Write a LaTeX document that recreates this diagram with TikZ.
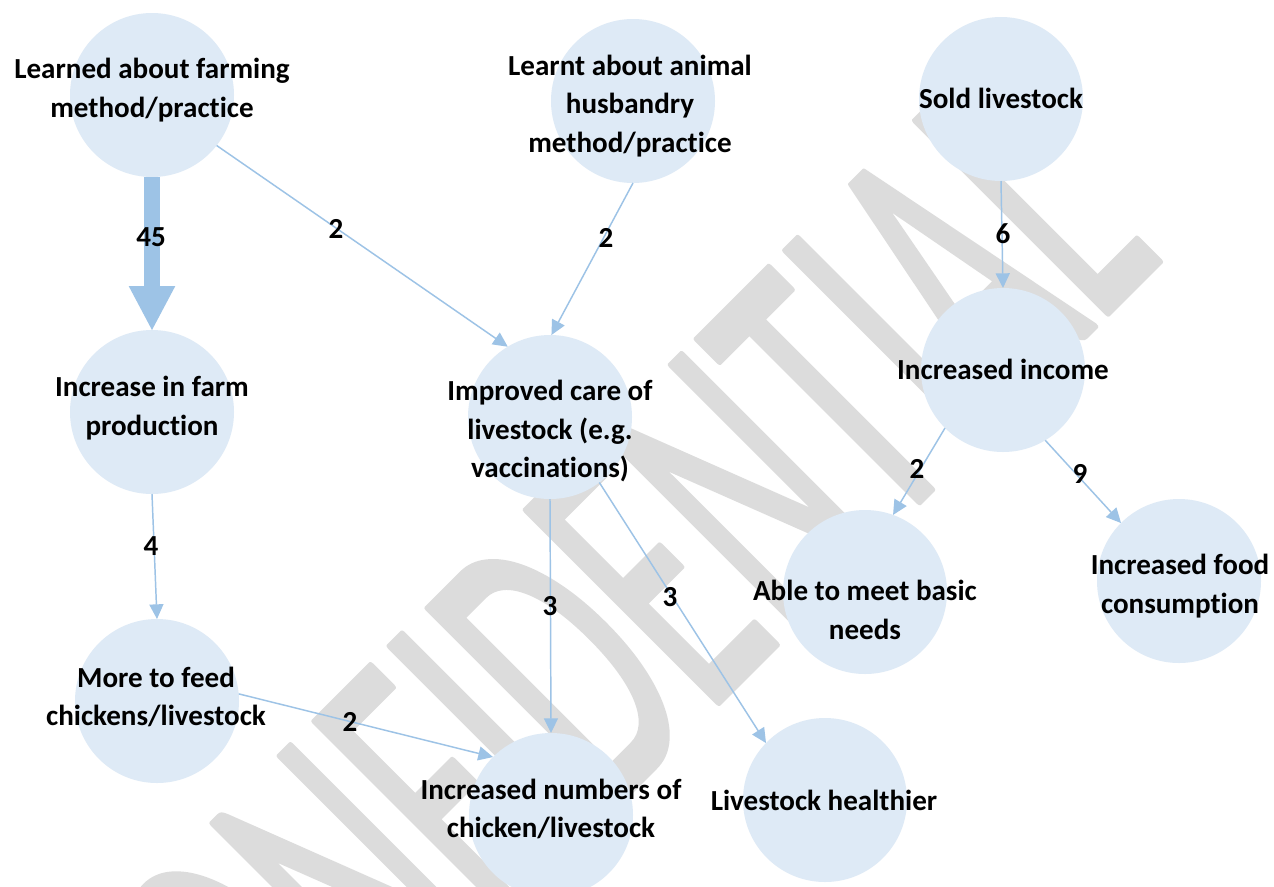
\documentclass[tikz,border=0pt]{standalone}
\usepackage{fontspec}
\setmainfont{Carlito}[Ligatures=NoCommon]
\usetikzlibrary{arrows.meta}
\definecolor{nodefill}{HTML}{DEEAF6}
\definecolor{linkblue}{HTML}{9DC3E6}
\definecolor{wmgray}{HTML}{DCDCDC}

\begin{document}
\begin{tikzpicture}[x=0.75pt,y=-0.75pt,
  bubble/.style={circle, fill=nodefill, draw=none, minimum size=123pt, inner sep=0pt, outer sep=0pt},
  caption/.style={font=\bfseries\fontsize{21.8pt}{28.8pt}\selectfont, align=center, inner sep=0pt, text=black},
  count/.style={font=\bfseries\fontsize{21.8pt}{26pt}\selectfont, inner sep=0pt, text=black},
  link/.style={draw=linkblue, line width=1.1pt, -{Triangle[length=11pt,width=10.5pt]}},
  biglink/.style={draw=linkblue, line width=12pt, -{Triangle[length=33pt,width=35pt,line width=0pt]}}]

\useasboundingbox (0,0) rectangle (1274,886);
\fill[white] (0,0) rectangle (1274,886);

% diagonal watermark: condensed glyphs, filled and stroked with round joins
\begin{scope}[shift={(204,1217)}, cm={0.375,0.375,-0.707,0.707,(0,0)}]
  \node[transform shape, anchor=base west, inner sep=0pt, text=wmgray,
        font=\fontsize{318pt}{318pt}\selectfont] (wm) at (0,0)
    {\special{pdf:literal direct 2 Tr 5 w 1 j 1 J}CONFIDENTIAL\special{pdf:literal direct 0 Tr}};
\end{scope}

% bubbles
\node[bubble] (farm)    at (152,95)  {};
\node[bubble] (herd)    at (633,101) {};
\node[bubble] (sold)    at (1001,99) {};
\node[bubble] (prod)    at (152,412) {};
\node[bubble] (care)    at (550,417) {};
\node[bubble] (income)  at (1003,370) {};
\node[bubble] (needs)   at (865,592) {};
\node[bubble] (food)    at (1179,581) {};
\node[bubble] (feed)    at (157,701) {};
\node[bubble] (numbers) at (551,815) {};
\node[bubble] (healthy) at (825,800) {};

% links
\draw[biglink] (farm.south) -- (prod.north);
\draw[link] (farm.-38) -- (care.121);
\draw[link] (herd.-90) -- (care.89);
\draw[link] (sold.-90) -- (income.90);
\draw[link] (income.-135.5) -- (needs.70);
\draw[link] (income.-59.4) -- (food.135.5);
\draw[link] (prod.-90) -- (feed.90);
\draw[link] (care.-90) -- (numbers.90);
\draw[link] (care.-53) -- (healthy.136.5);
\draw[link] (feed.5.6) -- (numbers.135);

% captions
\node[caption] (tfarm)    at (152,90)   {Learned about farming\\method/practice};
\node[caption] (therd)    at (630,106)  {Learnt about animal\\husbandry\\method/practice};
\node[caption] (tsold)    at (1001,98)  {Sold livestock};
\node[caption] (tprod)    at (152,408)  {Increase in farm\\production};
\node[caption] (tcare)    at (550,431)  {Improved care of\\livestock (e.g.\\vaccinations)};
\node[caption] (tincome)  at (1003,369) {Increased income};
\node[caption] (tneeds)   at (865,610)  {Able to meet basic\\needs};
\node[caption] (tfood)    at (1180,586) {Increased food\\consumption};
\node[caption] (tfeed)    at (156,697)  {More to feed\\chickens/livestock};
\node[caption] (tnumbers) at (551,809)  {Increased numbers of\\chicken/livestock};
\node[caption] (thealthy) at (824,800)  {Livestock healthier};

% counts
\node[count] (c1)  at (151,237) {45};
\node[count] (c2)  at (336,229) {2};
\node[count] (c3)  at (606,238) {2};
\node[count] (c4)  at (1003,234) {6};
\node[count] (c5)  at (917,469) {2};
\node[count] (c6)  at (1080,474) {9};
\node[count] (c7)  at (151,546) {4};
\node[count] (c8)  at (550,606) {3};
\node[count] (c9)  at (670,597) {3};
\node[count] (c10) at (350,722) {2};
\end{tikzpicture}
\end{document}
